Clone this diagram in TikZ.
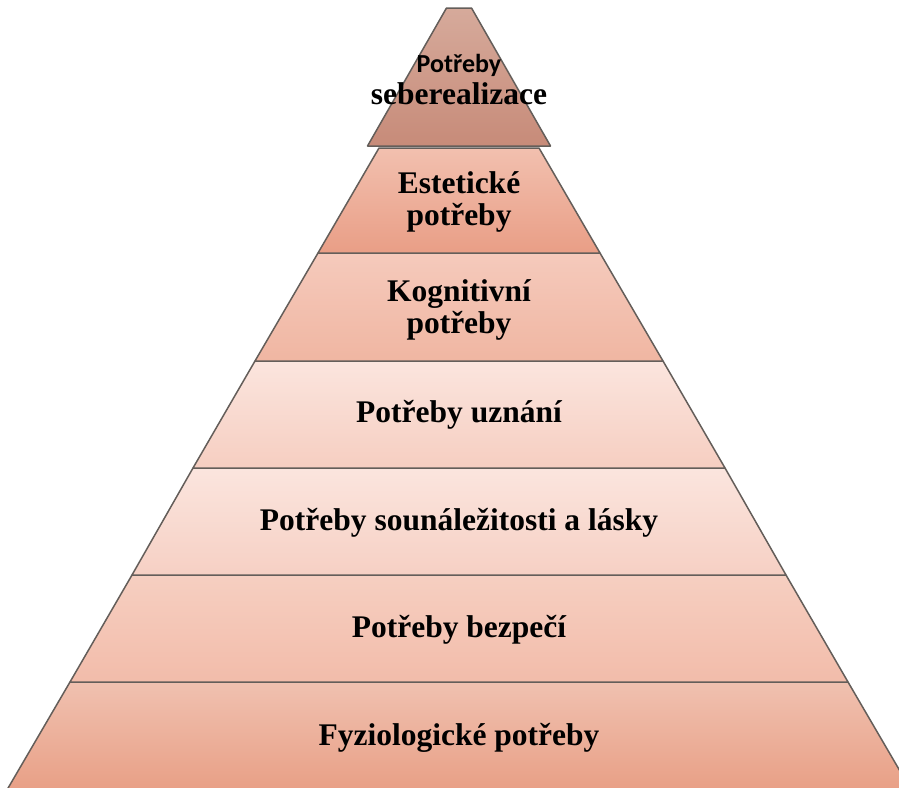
\documentclass[tikz,border=0pt]{standalone}
\usepackage{fontspec}
\setmainfont{Liberation Serif}
\newfontfamily\calibrifont{Carlito}
\usepackage{tikz}
\usetikzlibrary{positioning}
\definecolor{apexTop}{RGB}{214,170,155}
\definecolor{apexBot}{RGB}{199,139,121}
\definecolor{estTop}{RGB}{242,192,175}
\definecolor{estBot}{RGB}{233,158,134}
\definecolor{kogTop}{RGB}{245,202,188}
\definecolor{kogBot}{RGB}{240,182,162}
\definecolor{uznTop}{RGB}{251,229,222}
\definecolor{uznBot}{RGB}{246,206,193}
\definecolor{souTop}{RGB}{251,229,222}
\definecolor{souBot}{RGB}{246,208,196}
\definecolor{bezTop}{RGB}{246,207,193}
\definecolor{bezBot}{RGB}{242,188,170}
\definecolor{fyzTop}{RGB}{240,193,176}
\definecolor{fyzBot}{RGB}{232,158,132}
\definecolor{edge}{RGB}{100,94,90}
\begin{document}
\begin{tikzpicture}[
  x=1pt, y=-1pt,
  band/.style={draw=edge, line width=1.5pt, line join=round},
  label/.style={align=center, inner sep=0pt, font=\fontsize{31.5}{32}\selectfont\bfseries}]
\clip (0,0) rectangle (899,787);
\path[band, top color=fyzTop, bottom color=fyzBot] (70,682) -- (848,682) -- (914,795) -- (4,795) -- cycle;
\path[band, top color=bezTop, bottom color=bezBot] (132,575) -- (786,575) -- (848,682) -- (70,682) -- cycle;
\path[band, top color=souTop, bottom color=souBot] (193,468) -- (725,468) -- (786,575) -- (132,575) -- cycle;
\path[band, top color=uznTop, bottom color=uznBot] (255,361) -- (663,361) -- (725,468) -- (193,468) -- cycle;
\path[band, top color=kogTop, bottom color=kogBot] (318,253) -- (600,253) -- (663,361) -- (255,361) -- cycle;
\path[band, top color=estTop, bottom color=estBot] (379,148) -- (539,148) -- (600,253) -- (318,253) -- cycle;
\path[band, top color=apexTop, bottom color=apexBot] (446.5,8) -- (471.5,8) -- (550.5,146) -- (367.5,146) -- cycle;
% labels
\node[label] (apex) at (459,80) {{\calibrifont\fontsize{26}{32}\selectfont Potřeby}\\seberealizace};
\node[label] (est) at (459,202) {Estetické\\potřeby};
\node[label] (kog) at (459,310) {Kognitivní\\potřeby};
\node[label] (uzn) at (459,415) {Potřeby uznání};
\node[label] (sou) at (459,523) {Potřeby sounáležitosti a lásky};
\node[label] (bez) at (459,630) {Potřeby bezpečí};
\node[label] (fyz) at (459,738) {Fyziologické potřeby};
\end{tikzpicture}
\end{document}
